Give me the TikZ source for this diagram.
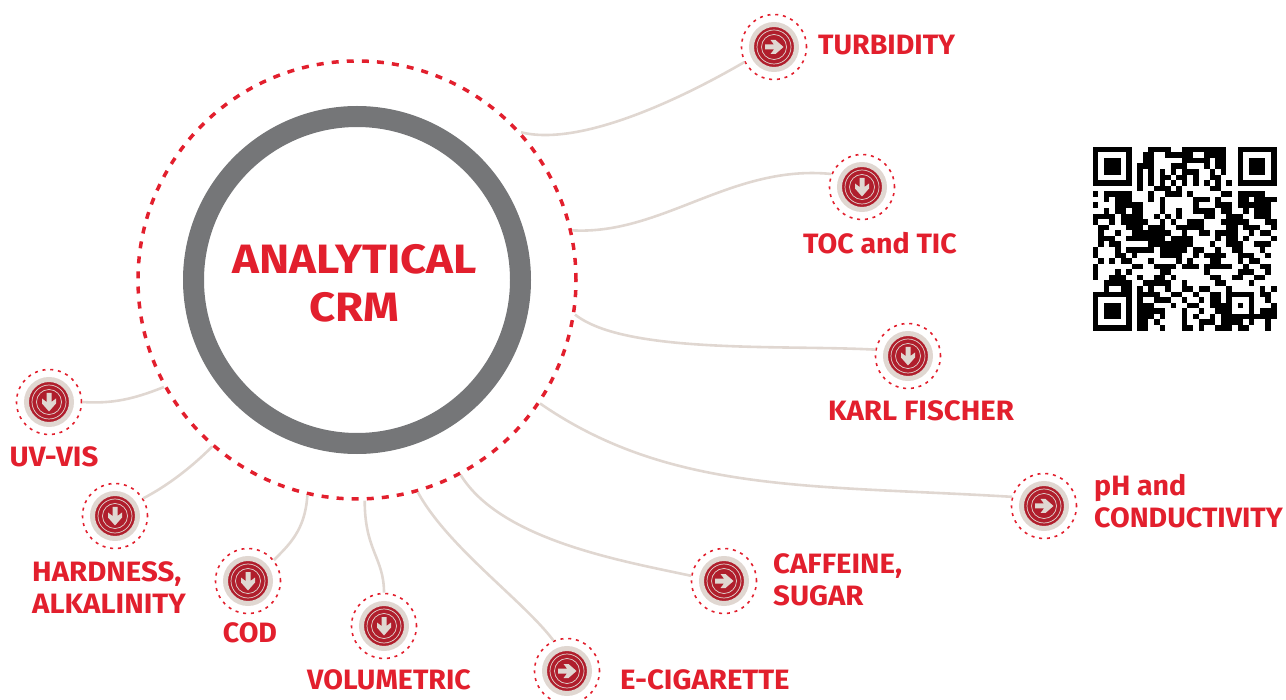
\documentclass[tikz,border=0pt]{standalone}
\usepackage{fontspec}
\setmainfont{Fira Sans}[FakeStretch=1.05]
\newfontfamily\titlefont{Fira Sans}[FakeStretch=1.11]
\newfontfamily\tightfont{Fira Sans}[FakeStretch=1.02]
\usepackage{xcolor}
\usepackage{tikz}
\definecolor{crmred}{HTML}{E21F2D}
\definecolor{crmdisc}{HTML}{B01E2C}
\definecolor{crmsand}{HTML}{E0D7D1}
\definecolor{crmgrey}{HTML}{757678}
\tikzset{
	hub/.style={circle, draw=crmred, line width=3.5pt, dash pattern=on 7pt off 8.1pt, minimum size=438pt, inner sep=0pt},
	core/.style={circle, draw=crmgrey, line width=21pt, fill=white, minimum size=327pt, inner sep=0pt},
	title/.style={align=center, text=crmred, inner sep=0pt, font=\titlefont\fontsize{41}{48}\selectfont\bfseries},
	halo/.style={circle, draw=crmred, line width=1.6pt, dash pattern=on 3pt off 4.8pt, minimum size=65pt, inner sep=0pt},
	disc/.style={circle, draw=crmsand, line width=5pt, fill=crmdisc, minimum size=45pt, inner sep=0pt},
	band/.style={circle, draw=crmsand, line width=0.7pt, inner sep=0pt},
	link/.style={draw=crmsand, line width=2.6pt},
	label/.style={text=crmred, font=\fontsize{28}{32}\selectfont\bfseries, align=left, inner sep=0pt},
	tightlabel/.style={label, font=\tightfont\fontsize{28}{32}\selectfont\bfseries},
}
\begin{document}
\begin{tikzpicture}[x=1pt, y=-1pt]
	\useasboundingbox (0,0) rectangle (1286,700);
	% the big circle
	\node[hub] (hub) at (357,280) {};
	\node[core] (core) at (357,280) {};
	\node[title] (title) at (354.5,283) {ANALYTICAL\\CRM};
	% the small round icons
	\foreach \name/\pos/\dir in {turbidity/{774,47}/0, toc/{862,187}/-90, karl/{908,356}/-90, ph/{1044,506}/0, caffeine/{724,581}/0, ecig/{567,671}/0, volumetric/{384,626}/-90, cod/{248,581}/-90, hardness/{115,516}/-90, uvvis/{49,402}/-90}
	{
		\node[halo] (\name) at (\pos) {};
		\node[disc] (\name-disc) at (\pos) {};
		\node[band, minimum size=34pt] (\name-outer) at (\pos) {};
		\node[band, minimum size=25pt] (\name-inner) at (\pos) {};
		\fill[crmsand, shift={(\pos)}, rotate=\dir] (-9,-2.5) -- (0,-2.5) -- (-3.5,-7) -- (1.5,-7) -- (9.5,0) -- (1.5,7) -- (-3.5,7) -- (0,2.5) -- (-9,2.5) -- cycle;
	}
	% the connectors
	\draw[link] (hub.42) .. controls +(60,15) and +(-60,35) .. (turbidity.207);
	\draw[link] (hub.13) .. controls +(90,5) and +(-100,-10) .. (toc.157);
	\draw[link] (hub.-9.5) .. controls +(50,40) and +(-90,-5) .. (karl.169);
	\draw[link] (hub.-34) .. controls +(130,90) and +(-200,-12) .. (ph.164);
	\draw[link] (hub.-62) .. controls +(40,65) and +(-70,-15) .. (caffeine.171);
	\draw[link] (hub.-74.5) .. controls +(30,55) and +(-30,-40) .. (ecig.114);
	\draw[link] (hub.-88.5) .. controls +(0,50) and +(0,-35) .. (volumetric.90);
	\draw[link] (hub.257) .. controls +(-2,35) and +(15,-15) .. (cod.39);
	\draw[link] (hub.229) .. controls +(-20,20) and +(25,-13) .. (hardness.32);
	\draw[link] (hub.209) .. controls +(-30,12) and +(30,2) .. (uvvis.0);
	% the labels
	\node[tightlabel, anchor=west] (turbidity-text) at (818,45) {TURBIDITY};
	\node[tightlabel] (toc-text) at (880,243) {TOC and TIC};
	\node[label] (karl-text) at (921,411) {KARL FISCHER};
	\node[tightlabel, anchor=west] (ph-text) at (1094,501) {pH and\\CONDUCTIVITY};
	\node[label, anchor=west] (caffeine-text) at (773,580) {CAFFEINE,\\SUGAR};
	\node[label, anchor=west] (ecig-text) at (620,680) {E-CIGARETTE};
	\node[tightlabel] (volumetric-text) at (389,680) {VOLUMETRIC};
	\node[tightlabel] (cod-text) at (250,633) {COD};
	\node[label, anchor=west] (hardness-text) at (32,588) {HARDNESS,\\ALKALINITY};
	\node[label] (uvvis-text) at (54,457) {UV-VIS};
	% the qr code, black runs row by row
	\begin{scope}[shift={(1092.7,146.7)}, x=5.57pt, y=-5.57pt]
		\foreach \r/\runs in {
			0/{0/7,10/4,16/8,26/7},
			1/{0/1,6/1,9/2,13/5,20/4,26/1,32/1},
			2/{0/1,2/3,6/1,9/2,16/5,22/2,26/1,28/3,32/1},
			3/{0/1,2/3,6/1,8/2,10/1,14/2,16/1,20/1,22/2,26/1,28/3,32/1},
			4/{0/1,2/3,6/1,8/1,10/1,12/1,14/1,16/3,21/1,23/1,26/1,28/3,32/1},
			5/{0/1,6/1,8/1,10/1,12/2,15/2,18/1,21/2,26/1,32/1},
			6/{0/7,8/1,10/1,12/1,14/1,16/1,18/1,20/1,22/1,24/1,26/7},
			7/{8/1,11/3,15/1,21/2},
			8/{0/1,2/5,10/1,13/3,17/1,23/2,26/5},
			9/{2/1,4/3,10/1,12/1,18/3,22/1,26/2,29/4},
			10/{0/1,4/5,12/1,18/1,22/3,26/6},
			11/{2/1,4/2,7/2,12/1,15/1,18/4,23/2,27/1,29/2,31/1},
			12/{0/4,5/4,11/1,13/1,15/1,20/2,24/3,29/3},
			13/{0/1,3/1,5/5,12/1,14/1,17/3,23/5,31/2},
			14/{1/2,6/3,10/3,15/5,24/2,27/3,32/1},
			15/{1/1,4/1,7/1,8/6,16/1,19/2,22/4,28/1,30/2},
			16/{1/3,6/7,14/4,22/1,24/2,27/1,32/1},
			17/{1/1,3/2,10/8,21/1,24/3,29/3},
			18/{0/1,4/1,6/5,12/5,18/2,22/1,25/2,30/1},
			19/{0/1,4/2,7/1,12/4,18/1,20/4,26/3,31/1},
			20/{1/1,3/1,5/2,10/1,15/1,17/1,21/2,26/1,28/2},
			21/{0/1,7/2,11/4,16/3,20/5,27/1,30/2},
			22/{0/1,4/1,6/1,12/2,20/1,26/3,31/1},
			23/{0/1,3/3,8/1,11/2,14/1,21/2,25/2,29/2},
			24/{2/3,5/2,9/5,16/1,22/2,28/1},
			25/{2/1,5/2,8/1,10/1,13/1,16/2,19/2,24/1,30/1,32/1},
			26/{0/7,8/4,14/2,18/1,21/2,24/5,30/2},
			27/{0/1,6/1,8/1,11/3,16/1,19/1,21/2,24/1,28/1,31/1},
			28/{0/1,2/3,6/1,8/3,14/1,17/2,21/3,24/1,26/1,28/1,32/1},
			29/{0/1,2/3,6/1,8/5,16/1,19/1,22/2,24/1,28/1,30/3},
			30/{0/1,2/3,6/1,8/3,12/1,16/1,18/1,21/1,23/7,30/3},
			31/{0/1,6/1,8/2,11/1,16/1,19/3,23/4,28/1,31/1},
			32/{0/7,8/2,12/1,16/2,19/1,22/3,26/2,31/1}%
		}{
			\foreach \c/\n in \runs {
				\fill[black] (\c,\r) rectangle ++(\n,1);
			}
		}
	\end{scope}
\end{tikzpicture}
\end{document}
